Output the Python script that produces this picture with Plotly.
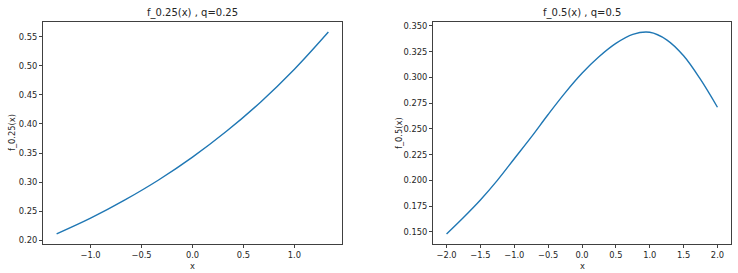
import plotly.graph_objects as go

# Left panel: f_0.25(x), q=0.25
x_left = [-1.333, -1.0, -0.667, -0.333, 0.0, 0.333, 0.667, 1.0, 1.333]
y_left = [0.2110, 0.2380, 0.2690, 0.3037, 0.3430, 0.3874, 0.4375, 0.4941, 0.5580]

# Right panel: f_0.5(x), q=0.5
x_right = [-2.0, -1.75, -1.5, -1.25, -1.0, -0.75, -0.5, -0.25, 0.0, 0.25, 0.5,
           0.75, 1.0, 1.25, 1.5, 1.75, 2.0]
y_right = [0.148, 0.164, 0.181, 0.200, 0.221, 0.242, 0.264, 0.285, 0.304, 0.320,
           0.333, 0.3418, 0.3438, 0.3365, 0.321, 0.298, 0.271]

left_xticks = [-1.0, -0.5, 0.0, 0.5, 1.0]
left_yticks = [0.20, 0.25, 0.30, 0.35, 0.40, 0.45, 0.50, 0.55]
right_xticks = [-2.0, -1.5, -1.0, -0.5, 0.0, 0.5, 1.0, 1.5, 2.0]
right_yticks = [0.150, 0.175, 0.200, 0.225, 0.250, 0.275, 0.300, 0.325, 0.350]

titles = ["f_0.25(x) , q=0.25", "f_0.5(x) , q=0.5"]
ylabels = ["f_0.25(x)", "f_0.5(x)"]

W, H = 738, 273
FONT = "DejaVu Sans"
COLOR = "#1f77b4"
TXT = "#262626"

fig = go.Figure()
fig.add_trace(go.Scatter(x=x_left, y=y_left, mode="lines", line=dict(color=COLOR, width=1.4, shape="spline"),
                         xaxis="x", yaxis="y", showlegend=False))
fig.add_trace(go.Scatter(x=x_right, y=y_right, mode="lines", line=dict(color=COLOR, width=1.4, shape="spline"),
                         xaxis="x2", yaxis="y2", showlegend=False))

def px_x(p):
    return p / W

def px_y(p):
    return (H - p) / H

axis_common = dict(showline=True, mirror=True, linecolor="#404040", linewidth=1,
                   ticks="outside", ticklen=3, tickwidth=1, tickcolor="#404040",
                   showgrid=False, zeroline=False, automargin=False,
                   tickfont=dict(family=FONT, size=8.3, color=TXT))

ydom = [px_y(244), px_y(22)]
fig.update_layout(
    template="none",
    width=W, height=H,
    margin=dict(l=0, r=0, t=0, b=0, autoexpand=False),
    paper_bgcolor="white", plot_bgcolor="white",
    xaxis=dict(domain=[px_x(43), px_x(342)], range=[-1.4667, 1.4667], tickvals=left_xticks,
               tickformat=".1f", anchor="y", **axis_common),
    yaxis=dict(domain=ydom, range=[0.1937, 0.5753], tickvals=left_yticks, tickformat=".2f",
               anchor="x", **axis_common),
    xaxis2=dict(domain=[px_x(433), px_x(731)], range=[-2.2, 2.2], tickvals=right_xticks,
                tickformat=".1f", anchor="y2", **axis_common),
    yaxis2=dict(domain=ydom, range=[0.1382, 0.3538], tickvals=right_yticks, tickformat=".3f",
                anchor="x2", **axis_common),
)

ann = []
for cx, t in [((43 + 342) / 2, titles[0]), ((433 + 731) / 2, titles[1])]:
    ann.append(dict(x=px_x(cx), y=px_y(13), xref="paper", yref="paper", text=t, showarrow=False,
                    xanchor="center", yanchor="middle", font=dict(family=FONT, size=10, color=TXT)))
    ann.append(dict(x=px_x(cx), y=px_y(265.5), xref="paper", yref="paper", text="x", showarrow=False,
                    xanchor="center", yanchor="middle", font=dict(family=FONT, size=8.3, color=TXT)))
for lx, t in [(12, ylabels[0]), (399, ylabels[1])]:
    ann.append(dict(x=px_x(lx), y=px_y(133), xref="paper", yref="paper", text=t, showarrow=False,
                    textangle=-90, xanchor="center", yanchor="middle",
                    font=dict(family=FONT, size=8.3, color=TXT)))
fig.update_layout(annotations=ann)

fig.write_html("out.html", config={"displayModeBar": False},
               post_script="document.body.style.margin='0';document.body.style.overflow='hidden';")
